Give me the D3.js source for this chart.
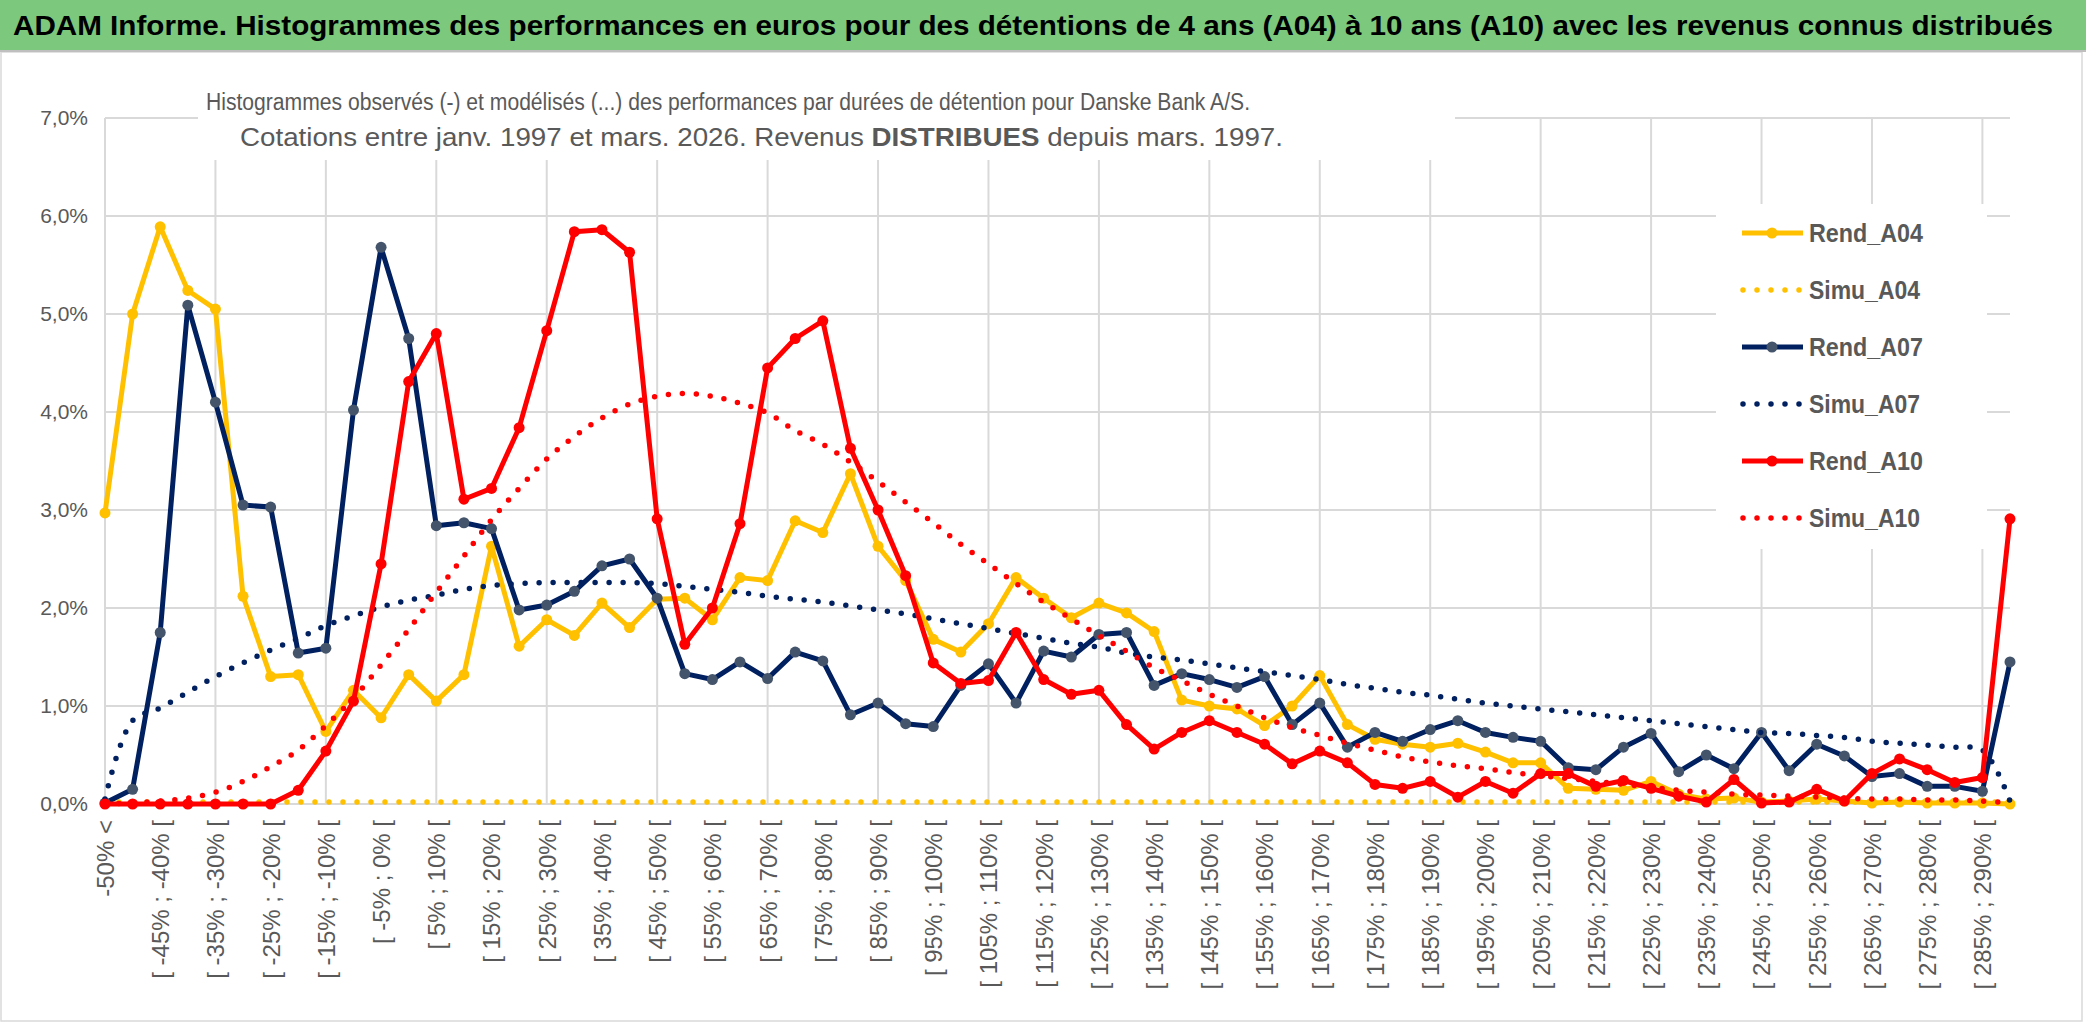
<!DOCTYPE html>
<html>
<head>
<meta charset="utf-8">
<script src="https://cdn.jsdelivr.net/npm/d3@7"></script>
<style>
  body { margin: 0; background: #fff; }
  svg { display: block; }
</style>
</head>
<body>
<svg id="chart"></svg>
<script>
const width = 2086;
const height = 1031;
const FONT = "'Liberation Sans Narrow', 'Arial Narrow', 'Liberation Sans', sans-serif";
const GREY = '#595959';

// classes de performance (axe X)
const categories = [
  "-50% <", "[ -50% ; -45% [", "[ -45% ; -40% [", "[ -40% ; -35% [", "[ -35% ; -30% [",
  "[ -30% ; -25% [", "[ -25% ; -20% [", "[ -20% ; -15% [", "[ -15% ; -10% [", "[ -10% ; -5% [",
  "[ -5% ; 0% [", "[ 0% ; 5% [", "[ 5% ; 10% [", "[ 10% ; 15% [", "[ 15% ; 20% [",
  "[ 20% ; 25% [", "[ 25% ; 30% [", "[ 30% ; 35% [", "[ 35% ; 40% [", "[ 40% ; 45% [",
  "[ 45% ; 50% [", "[ 50% ; 55% [", "[ 55% ; 60% [", "[ 60% ; 65% [", "[ 65% ; 70% [",
  "[ 70% ; 75% [", "[ 75% ; 80% [", "[ 80% ; 85% [", "[ 85% ; 90% [", "[ 90% ; 95% [",
  "[ 95% ; 100% [", "[ 100% ; 105% [", "[ 105% ; 110% [", "[ 110% ; 115% [", "[ 115% ; 120% [",
  "[ 120% ; 125% [", "[ 125% ; 130% [", "[ 130% ; 135% [", "[ 135% ; 140% [", "[ 140% ; 145% [",
  "[ 145% ; 150% [", "[ 150% ; 155% [", "[ 155% ; 160% [", "[ 160% ; 165% [", "[ 165% ; 170% [",
  "[ 170% ; 175% [", "[ 175% ; 180% [", "[ 180% ; 185% [", "[ 185% ; 190% [", "[ 190% ; 195% [",
  "[ 195% ; 200% [", "[ 200% ; 205% [", "[ 205% ; 210% [", "[ 210% ; 215% [", "[ 215% ; 220% [",
  "[ 220% ; 225% [", "[ 225% ; 230% [", "[ 230% ; 235% [", "[ 235% ; 240% [", "[ 240% ; 245% [",
  "[ 245% ; 250% [", "[ 250% ; 255% [", "[ 255% ; 260% [", "[ 260% ; 265% [", "[ 265% ; 270% [",
  "[ 270% ; 275% [", "[ 275% ; 280% [", "[ 280% ; 285% [", "[ 285% ; 290% [", "> 290%"
];

// valeurs en %
const rendA04 = [
  2.97, 5.00, 5.89, 5.24, 5.05, 2.12, 1.30, 1.32, 0.74, 1.16,
  0.88, 1.32, 1.05, 1.32, 2.63, 1.61, 1.88, 1.72, 2.05, 1.80,
  2.09, 2.10, 1.88, 2.31, 2.28, 2.89, 2.77, 3.37, 2.63, 2.28,
  1.68, 1.55, 1.84, 2.31, 2.10, 1.90, 2.05, 1.95, 1.76, 1.06,
  1.00, 0.97, 0.80, 1.00, 1.31, 0.81, 0.66, 0.61, 0.58, 0.62,
  0.53, 0.42, 0.42, 0.16, 0.15, 0.14, 0.23, 0.10, 0.05, 0.06,
  0.02, 0.03, 0.05, 0.03, 0.01, 0.02, 0.01, 0.01, 0.01, 0.00
];
const simuA04 = [
  0.02, 0.02, 0.02, 0.02, 0.02, 0.02, 0.02, 0.02, 0.02, 0.02,
  0.02, 0.02, 0.02, 0.02, 0.02, 0.02, 0.02, 0.02, 0.02, 0.02,
  0.02, 0.02, 0.02, 0.02, 0.02, 0.02, 0.02, 0.02, 0.02, 0.02,
  0.02, 0.02, 0.02, 0.02, 0.02, 0.02, 0.02, 0.02, 0.02, 0.02,
  0.02, 0.02, 0.02, 0.02, 0.02, 0.02, 0.02, 0.02, 0.02, 0.02,
  0.02, 0.02, 0.02, 0.02, 0.02, 0.02, 0.02, 0.02, 0.02, 0.02,
  0.02, 0.02, 0.02, 0.02, 0.02, 0.02, 0.02, 0.02, 0.02, 0.02
];
const rendA07 = [
  0.01, 0.15, 1.75, 5.09, 4.10, 3.05, 3.03, 1.54, 1.59, 4.02,
  5.68, 4.75, 2.84, 2.87, 2.81, 1.98, 2.03, 2.17, 2.43, 2.50,
  2.10, 1.33, 1.27, 1.45, 1.28, 1.55, 1.46, 0.91, 1.03, 0.82,
  0.79, 1.21, 1.43, 1.03, 1.56, 1.50, 1.73, 1.75, 1.21, 1.33,
  1.27, 1.19, 1.30, 0.81, 1.03, 0.58, 0.73, 0.64, 0.76, 0.85,
  0.73, 0.68, 0.64, 0.37, 0.35, 0.58, 0.72, 0.33, 0.50, 0.36,
  0.73, 0.34, 0.61, 0.49, 0.28, 0.31, 0.18, 0.18, 0.13, 1.45
];
const simuA07 = [
  0.05, 0.85, 0.98, 1.14, 1.30, 1.44, 1.57, 1.69, 1.82, 1.92,
  2.01, 2.08, 2.13, 2.19, 2.23, 2.25, 2.26, 2.26, 2.26, 2.26,
  2.25, 2.22, 2.19, 2.16, 2.12, 2.09, 2.06, 2.02, 1.98, 1.94,
  1.89, 1.84, 1.79, 1.74, 1.69, 1.64, 1.60, 1.54, 1.50, 1.47,
  1.43, 1.39, 1.35, 1.31, 1.27, 1.22, 1.18, 1.14, 1.11, 1.07,
  1.03, 1.00, 0.97, 0.94, 0.91, 0.88, 0.85, 0.82, 0.79, 0.76,
  0.73, 0.72, 0.70, 0.68, 0.64, 0.62, 0.60, 0.58, 0.55, 0.03
];
const rendA10 = [
  0.00, 0.00, 0.00, 0.00, 0.00, 0.00, 0.00, 0.14, 0.54, 1.05,
  2.45, 4.31, 4.80, 3.11, 3.22, 3.84, 4.83, 5.84, 5.86, 5.63,
  2.91, 1.63, 2.00, 2.86, 4.45, 4.75, 4.93, 3.63, 3.00, 2.33,
  1.44, 1.23, 1.26, 1.75, 1.27, 1.12, 1.16, 0.81, 0.56, 0.73,
  0.85, 0.73, 0.61, 0.41, 0.54, 0.42, 0.20, 0.16, 0.23, 0.07,
  0.23, 0.11, 0.31, 0.31, 0.18, 0.24, 0.16, 0.08, 0.02, 0.25,
  0.01, 0.02, 0.15, 0.03, 0.31, 0.46, 0.35, 0.22, 0.27, 2.91
];
const simuA10 = [
  0.00, 0.01, 0.03, 0.06, 0.12, 0.23, 0.38, 0.55, 0.80, 1.08,
  1.42, 1.78, 2.16, 2.53, 2.90, 3.22, 3.52, 3.75, 3.94, 4.08,
  4.16, 4.19, 4.16, 4.09, 3.99, 3.81, 3.67, 3.49, 3.29, 3.08,
  2.87, 2.65, 2.45, 2.25, 2.06, 1.89, 1.72, 1.56, 1.39, 1.26,
  1.12, 1.00, 0.88, 0.78, 0.70, 0.62, 0.55, 0.48, 0.43, 0.39,
  0.36, 0.32, 0.29, 0.26, 0.23, 0.20, 0.17, 0.14, 0.12, 0.10,
  0.09, 0.08, 0.07, 0.06, 0.05, 0.05, 0.04, 0.04, 0.03, 0.01
];

const yTicks = [0, 1, 2, 3, 4, 5, 6, 7];

const series = [
  {name: 'Rend_A04', values: rendA04, color: '#FFC000', marker: '#FFC000', dotted: false},
  {name: 'Simu_A04', values: simuA04, color: '#FFC000', dotted: true},
  {name: 'Rend_A07', values: rendA07, color: '#002060', marker: '#44546A', dotted: false},
  {name: 'Simu_A07', values: simuA07, color: '#002060', dotted: true},
  {name: 'Rend_A10', values: rendA10, color: '#FF0000', marker: '#FF0000', dotted: false},
  {name: 'Simu_A10', values: simuA10, color: '#FF0000', dotted: true}
];

const svg = d3.select('#chart').attr('width', width).attr('height', height)
  .style('font-family', FONT);

// cadre + bandeau vert
svg.append('rect').attr('x', 0).attr('y', 0).attr('width', width).attr('height', height).attr('fill', '#fff');
svg.append('rect').attr('x', 1).attr('y', 52).attr('width', 2081).attr('height', 969)
  .attr('fill', 'none').attr('stroke', '#d9d9d9').attr('stroke-width', 1.5);
svg.append('rect').attr('x', 0).attr('y', 0).attr('width', width).attr('height', 50).attr('fill', '#7cc87c');
svg.append('line').attr('x1', 0).attr('x2', width).attr('y1', 51).attr('y2', 51)
  .attr('stroke', '#bfbfbf').attr('stroke-width', 2);

svg.append('text')
  .attr('x', 13).attr('y', 35)
  .attr('font-size', 28).attr('font-weight', 'bold').attr('fill', '#000')
  .attr('textLength', 2040).attr('lengthAdjust', 'spacingAndGlyphs')
  .text('ADAM Informe. Histogrammes des performances en euros pour des détentions de 4 ans (A04) à 10 ans (A10) avec les revenus connus distribués');

// échelles
const x = d3.scalePoint().domain(categories).range([105, 2010]);
const y = d3.scaleLinear().domain([0, 7]).range([804, 118]);

// grille
svg.append('g').selectAll('line').data(yTicks).enter().append('line')
  .attr('x1', 105).attr('x2', 2010)
  .attr('y1', d => y(d)).attr('y2', d => y(d))
  .attr('stroke', '#d9d9d9').attr('stroke-width', 2);
svg.append('g').selectAll('line').data(categories.filter((d, i) => i % 4 === 0)).enter().append('line')
  .attr('x1', d => x(d)).attr('x2', d => x(d))
  .attr('y1', y(0)).attr('y2', y(7))
  .attr('stroke', '#d9d9d9').attr('stroke-width', 2);

// zones blanches du titre et de la légende (masquent la grille)
svg.append('rect').attr('x', 198).attr('y', 53).attr('width', 1257).attr('height', 107).attr('fill', '#fff');
svg.append('rect').attr('x', 1716).attr('y', 204).attr('width', 271).attr('height', 345).attr('fill', '#fff');

// sous-titre
svg.append('text')
  .attr('x', 206).attr('y', 110)
  .attr('font-size', 23).attr('fill', GREY)
  .attr('textLength', 1044).attr('lengthAdjust', 'spacingAndGlyphs')
  .text('Histogrammes observés (-) et modélisés (...) des performances par durées de détention pour Danske Bank A/S.');
const sub2 = svg.append('text')
  .attr('x', 240).attr('y', 146)
  .attr('font-size', 25).attr('fill', GREY)
  .attr('textLength', 1043).attr('lengthAdjust', 'spacingAndGlyphs');
sub2.append('tspan').text('Cotations entre janv. 1997 et mars. 2026. Revenus ');
sub2.append('tspan').attr('font-weight', 'bold').text('DISTRIBUES');
sub2.append('tspan').text(' depuis mars. 1997.');

// axes
const yAxis = svg.append('g').attr('transform', 'translate(105,0)')
  .call(d3.axisLeft(y).tickValues(yTicks).tickSize(0).tickPadding(17)
    .tickFormat(d => d.toFixed(1).replace('.', ',') + '%'));
yAxis.select('.domain').remove();
yAxis.selectAll('text').attr('font-size', 21).attr('fill', GREY).attr('font-family', FONT);

const xAxis = svg.append('g').attr('transform', `translate(0,${y(0)})`)
  .call(d3.axisBottom(x).tickValues(categories.filter((d, i) => i % 2 === 0)).tickSize(0));
xAxis.select('.domain').remove();
xAxis.selectAll('text')
  .attr('transform', 'rotate(-90)')
  .attr('text-anchor', 'end')
  .attr('x', -16).attr('y', 0).attr('dy', '0.35em')
  .attr('font-size', 24).attr('fill', GREY).attr('font-family', FONT);

// courbes
const straight = d3.line().x((d, i) => x(categories[i])).y(d => y(d));
const smooth = d3.line().x((d, i) => x(categories[i])).y(d => y(d)).curve(d3.curveCatmullRom);

series.forEach(s => {
  if (s.dotted) {
    svg.append('path').attr('d', smooth(s.values))
      .attr('fill', 'none').attr('stroke', s.color).attr('stroke-width', 5.5)
      .attr('stroke-linecap', 'round').attr('stroke-dasharray', '0 14');
  } else {
    svg.append('path').attr('d', straight(s.values))
      .attr('fill', 'none').attr('stroke', s.color).attr('stroke-width', 5)
      .attr('stroke-linejoin', 'round');
    svg.append('g').selectAll('circle').data(s.values).enter().append('circle')
      .attr('cx', (d, i) => x(categories[i])).attr('cy', d => y(d))
      .attr('r', 5.5).attr('fill', s.marker);
  }
});

// légende
const legend = svg.append('g');
series.forEach((s, i) => {
  const ly = 233 + i * 57;
  const g = legend.append('g');
  if (s.dotted) {
    g.append('line').attr('x1', 1743).attr('x2', 1803).attr('y1', ly).attr('y2', ly)
      .attr('stroke', s.color).attr('stroke-width', 5.5)
      .attr('stroke-linecap', 'round').attr('stroke-dasharray', '0 14');
  } else {
    g.append('line').attr('x1', 1742).attr('x2', 1803).attr('y1', ly).attr('y2', ly)
      .attr('stroke', s.color).attr('stroke-width', 5);
    g.append('circle').attr('cx', 1772).attr('cy', ly).attr('r', 5.5).attr('fill', s.marker);
  }
  g.append('text').attr('x', 1809).attr('y', ly).attr('dy', '0.36em')
    .attr('font-size', 26).attr('font-weight', 'bold').attr('fill', GREY)
    .attr('textLength', s.name.startsWith('Rend') ? 114 : 111).attr('lengthAdjust', 'spacingAndGlyphs')
    .text(s.name);
});
</script>
</body>
</html>
